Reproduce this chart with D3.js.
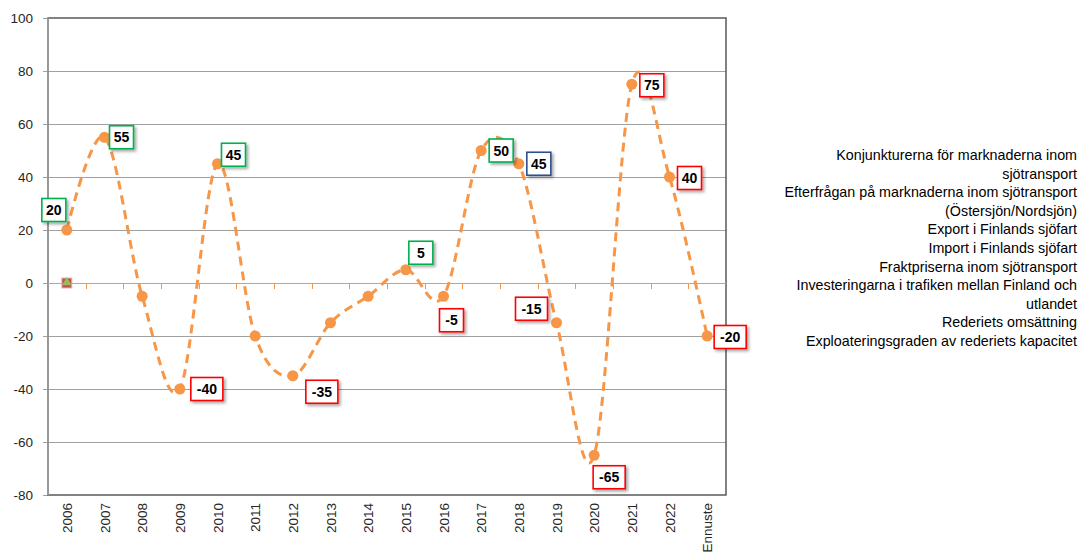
<!DOCTYPE html>
<html>
<head>
<meta charset="utf-8">
<script src="https://cdn.jsdelivr.net/npm/d3@7"></script>
<style>
  html, body { margin: 0; padding: 0; background: #fff; }
  svg { display: block; }
</style>
</head>
<body>
<svg id="chart" width="1081" height="554"></svg>
<script>
// ---------- DATA ----------
const categories = ['2006','2007','2008','2009','2010','2011','2012','2013','2014','2015','2016','2017','2018','2019','2020','2021','2022','Ennuste'];
const values = [20, 55, -5, -40, 45, -20, -35, -15, -5, 5, -5, 50, 45, -15, -65, 75, 40, -20];
// label state per point ('' = no label)
const labelState = ['up','up','','down','up','','down','','','up','down','up','neutral','down','down','down','down','down'];
const yTicks = [-80, -60, -40, -20, 0, 20, 40, 60, 80, 100];
const legendLines = [
  'Konjunkturerna för marknaderna inom',
  'sjötransport',
  'Efterfrågan på marknaderna inom sjötransport',
  '(Östersjön/Nordsjön)',
  'Export i Finlands sjöfart',
  'Import i Finlands sjöfart',
  'Fraktpriserna inom sjötransport',
  'Investeringarna i trafiken mellan Finland och',
  'utlandet',
  'Rederiets omsättning',
  'Exploateringsgraden av rederiets kapacitet'
];
// other series at the first category (only visible markers)
const otherSeriesFirst = [0, 0];

// ---------- LAYOUT / STYLE ----------
const plot = { left: 48, right: 726, top: 18, bottom: 495 };
const stateColor = { up: '#00B050', down: '#FF0000', neutral: '#2F4F8F' };
// label offsets relative to marker (dx, dy)
const labelOffset = [[-13,-20],[17,0],null,[27,0],[16,-9],null,[29,16],null,null,[15,-17],[8,24],[20,0],[20,0],[-25,-14],[15,22],[20,1],[20,1],[23,1]];
const orange = '#F79646';

const svg = d3.select('#chart');
const defs = svg.append('defs');
const f = defs.append('filter').attr('id','shadow').attr('x','-30%').attr('y','-30%').attr('width','170%').attr('height','170%');
f.append('feDropShadow').attr('dx',2).attr('dy',2).attr('stdDeviation',1.5).attr('flood-color','#000').attr('flood-opacity',0.35);

const x = d3.scaleBand().domain(categories).range([plot.left, plot.right]).padding(0);
const y = d3.scaleLinear().domain([-80, 100]).range([plot.bottom, plot.top]);
const cx = c => x(c) + x.bandwidth() / 2;
const crisp = v => Math.round(v) + 0.5;

// gridlines
svg.append('g').attr('shape-rendering','crispEdges').selectAll('line').data(yTicks.filter(t => t !== 0 && t !== 100 && t !== -80)).join('line')
  .attr('x1', plot.left - 5).attr('x2', plot.right)
  .attr('y1', d => crisp(y(d))).attr('y2', d => crisp(y(d)))
  .attr('stroke', '#A0A0A0').attr('stroke-width', 1);

// tick marks for ends
svg.append('g').attr('shape-rendering','crispEdges').selectAll('line').data([100, 0, -80]).join('line')
  .attr('x1', plot.left - 5).attr('x2', plot.left)
  .attr('y1', d => crisp(y(d))).attr('y2', d => crisp(y(d)))
  .attr('stroke', '#A0A0A0').attr('stroke-width', 1);

// plot border
svg.append('rect')
  .attr('x', plot.left).attr('y', plot.top)
  .attr('width', plot.right - plot.left).attr('height', plot.bottom - plot.top)
  .attr('fill', 'none').attr('stroke', '#595959').attr('stroke-width', 1.5);

// left axis line
svg.append('line').attr('x1', plot.left).attr('x2', plot.left)
  .attr('y1', plot.top).attr('y2', plot.bottom)
  .attr('stroke', '#A0A0A0').attr('stroke-width', 1.5);

// zero (category) axis
const zy = crisp(y(0));
svg.append('line').attr('shape-rendering','crispEdges').attr('x1', plot.left).attr('x2', plot.right)
  .attr('y1', zy).attr('y2', zy).attr('stroke', orange).attr('stroke-width', 1);
svg.append('g').attr('shape-rendering','crispEdges').selectAll('line').data(categories.slice(1)).join('line')
  .attr('x1', d => crisp(x(d))).attr('x2', d => crisp(x(d)))
  .attr('y1', zy).attr('y2', zy + 5)
  .attr('stroke', orange).attr('stroke-width', 1);

// y tick labels
svg.append('g').selectAll('text').data(yTicks).join('text')
  .attr('x', 33).attr('y', d => y(d)).attr('dy', '0.35em')
  .attr('text-anchor', 'end')
  .attr('font-family', 'Liberation Sans, Arial, sans-serif').attr('font-size', 13.5)
  .attr('fill', '#262626')
  .text(d => d);

// x tick labels (rotated)
svg.append('g').selectAll('text').data(categories).join('text')
  .attr('transform', d => `translate(${cx(d) + 5},${503}) rotate(-90)`)
  .attr('text-anchor', 'end')
  .attr('font-family', 'Liberation Sans, Arial, sans-serif').attr('font-size', 13.5)
  .attr('fill', '#262626')
  .text(d => d);

// other series markers at first category
const m0 = svg.append('g');
m0.append('rect').attr('x', cx(categories[0]) - 5).attr('y', y(otherSeriesFirst[0]) - 5)
  .attr('width', 10).attr('height', 10).attr('fill', '#C0504D').attr('stroke', '#E6B9B8').attr('stroke-width', 1);
m0.append('path').attr('d', d3.symbol().type(d3.symbolTriangle).size(40)())
  .attr('transform', `translate(${cx(categories[0])},${y(otherSeriesFirst[1]) - 0.5})`)
  .attr('fill', '#9BBB59');

// main series line
const pts = categories.map((c, i) => ({ c, v: values[i], s: labelState[i], o: labelOffset[i] }));
const line = d3.line().x(d => cx(d.c)).y(d => y(d.v)).curve(d3.curveCardinal.tension(0));
svg.append('path').datum(pts).attr('d', line)
  .attr('fill', 'none').attr('stroke', orange).attr('stroke-width', 3)
  .attr('stroke-dasharray', '9,6');

svg.append('g').selectAll('circle').data(pts).join('circle')
  .attr('cx', d => cx(d.c)).attr('cy', d => y(d.v)).attr('r', 5.5)
  .attr('fill', orange);

// data labels
const lg = svg.append('g').selectAll('g').data(pts.filter(d => d.s)).join('g')
  .attr('transform', d => `translate(${cx(d.c) + d.o[0]},${y(d.v) + d.o[1]})`);
lg.each(function(d) {
  const g = d3.select(this);
  const txt = String(d.v);
  const w = Math.max(24, txt.length * 8 + 8);
  const h = 23;
  g.append('rect').attr('x', -w/2).attr('y', -h/2).attr('width', w).attr('height', h)
    .attr('fill', '#fff').attr('stroke', stateColor[d.s]).attr('stroke-width', 1.6)
    .attr('filter', 'url(#shadow)');
  g.append('text').attr('text-anchor', 'middle').attr('dy', '0.36em')
    .attr('font-family', 'Liberation Sans, Arial, sans-serif').attr('font-size', 14)
    .attr('font-weight', 'bold').attr('fill', '#000').text(txt);
});

// legend (text only)
svg.append('g').selectAll('text').data(legendLines).join('text')
  .attr('x', 1077).attr('y', (d, i) => 155 + i * 18.6).attr('dy', '0.35em')
  .attr('text-anchor', 'end')
  .attr('font-family', 'Liberation Sans, Arial, sans-serif').attr('font-size', 14.3)
  .attr('fill', '#000')
  .text(d => d);
</script>
</body>
</html>
